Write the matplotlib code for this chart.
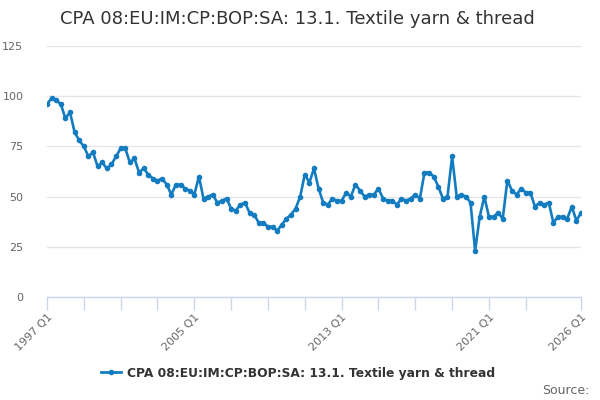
import matplotlib
matplotlib.use("Agg")
import matplotlib.pyplot as plt
from matplotlib.lines import Line2D

title = "CPA 08:EU:IM:CP:BOP:SA: 13.1. Textile yarn & thread"
series_name = "CPA 08:EU:IM:CP:BOP:SA: 13.1. Textile yarn & thread"
start_year = 1997
values = [96, 99, 98, 96, 89, 92, 82, 78, 75, 70, 72, 65, 67, 64, 66, 70,
          74, 74, 67, 69, 62, 64, 61, 59, 58, 59, 56, 51, 56, 56, 54, 53,
          51, 60, 49, 50, 51, 47, 48, 49, 44, 43, 46, 47, 42, 41, 37, 37,
          35, 35, 33, 36, 39, 41, 44, 50, 61, 57, 64, 54, 47, 46, 49, 48,
          48, 52, 50, 56, 53, 50, 51, 51, 54, 49, 48, 48, 46, 49, 48, 49,
          51, 49, 62, 62, 60, 55, 49, 50, 70, 50, 51, 50, 47, 23, 40, 50,
          40, 40, 42, 39, 58, 53, 51, 54, 52, 52, 45, 47, 46, 47, 37, 40,
          40, 39, 45, 38, 42]
labels = [f"{start_year + i // 4} Q{i % 4 + 1}" for i in range(len(values))]
label_idx = [0, 32, 64, 96, len(values) - 1]
tick_idx = list(range(0, 105, 8)) + [len(values) - 1]
yticks = [0, 25, 50, 75, 100, 125]

color = "#137cc0"
fig = plt.figure(figsize=(6, 4), dpi=100)
ax = fig.add_axes([47/600, 103/400, 534/600, 251/400])
x = list(range(len(values)))
ax.plot(x, values, color=color, lw=1.9, marker="o", ms=3.0, zorder=3)
ax.set_xlim(0, len(values) - 1)
ax.set_ylim(0, 125)
ax.set_yticks(yticks)
ax.set_yticklabels([str(v) for v in yticks])
ax.tick_params(axis="y", length=0, pad=17, labelsize=8, labelcolor="#666666")
ax.grid(axis="y", color="#e6e6e6", lw=1)
ax.set_axisbelow(True)
for s in ["top", "right", "left"]:
    ax.spines[s].set_visible(False)
ax.spines["bottom"].set_color("#ccd6eb")
ax.spines["bottom"].set_linewidth(1)

ax.set_xticks(tick_idx)
ax.set_xticklabels([labels[i] if i in label_idx else "" for i in tick_idx])
ax.tick_params(axis="x", length=9, width=1, color="#ccd6eb", labelsize=8,
               labelcolor="#666666", pad=2)
for t in ax.get_xticklabels():
    t.set_rotation(45)
    t.set_ha("right")
    t.set_va("top")
    t.set_rotation_mode("anchor")

fig.text(0.496, 0.952, title, ha="center", va="center", fontsize=13, color="#333333")

handle = Line2D([0], [0], color=color, lw=2, marker="o", ms=3.0)
fig.legend([handle], [series_name], loc="center", bbox_to_anchor=(0.497, 0.067),
           frameon=False, handlelength=1.6, handletextpad=0.5,
           prop={"weight": "bold", "size": 8.8}, labelcolor="#333333")
fig.text(0.982, 0.025, "Source:", ha="right", va="center", fontsize=9, color="#666666")

fig.savefig("out.png", dpi=100)
